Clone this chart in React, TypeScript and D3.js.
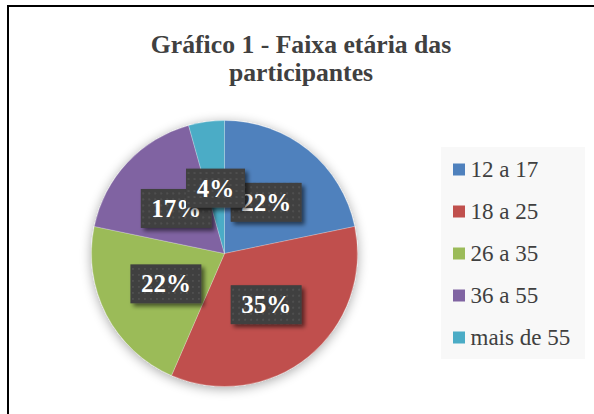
import React from "react";
import * as d3 from "d3";

const categories = ["12 a 17", "18 a 25", "26 a 35", "36 a 55", "mais de 55"];
const counts = [5, 8, 5, 4, 1];
const colors = ["#4f81bd", "#c0504d", "#9bbb59", "#8064a2", "#4bacc6"];
const titleLines = ["Gráfico 1 - Faixa etária das", "participantes"];

const W = 594;
const H = 414;
const cx = 224.5;
const cy = 253.5;
const R = 133;
const labelR = 66;

export default function App() {
  const total = d3.sum(counts);
  const pie = d3.pie<number>().sort(null).value((d) => d);
  const arcs = pie(counts);
  const arc = d3.arc<d3.PieArcDatum<number>>().innerRadius(0).outerRadius(R);
  const labelArc = d3.arc<d3.PieArcDatum<number>>().innerRadius(labelR).outerRadius(labelR);
  const fmt = d3.format(".0%");

  const legendY = d3.scalePoint<string>().domain(categories).range([169.5, 337.5]);

  const fontSerif = "Liberation Serif, Tinos, Times New Roman, Times, DejaVu Serif, serif";

  return (
    <svg width={W} height={H} style={{ position: "absolute", left: 0, top: 0 }}>
      <defs>
        <filter id="pieShadow" x="-30%" y="-30%" width="160%" height="160%">
          <feGaussianBlur in="SourceAlpha" stdDeviation="6" />
          <feOffset dx="0" dy="2" result="b" />
          <feComponentTransfer>
            <feFuncA type="linear" slope="0.35" />
          </feComponentTransfer>
          <feMerge>
            <feMergeNode />
            <feMergeNode in="SourceGraphic" />
          </feMerge>
        </filter>
        <filter id="boxShadow" x="-20%" y="-20%" width="150%" height="160%">
          <feGaussianBlur in="SourceAlpha" stdDeviation="2" />
          <feOffset dx="3" dy="3" />
          <feComponentTransfer>
            <feFuncA type="linear" slope="0.55" />
          </feComponentTransfer>
          <feMerge>
            <feMergeNode />
            <feMergeNode in="SourceGraphic" />
          </feMerge>
        </filter>
        <pattern id="dots" width="6" height="6" patternUnits="userSpaceOnUse">
          <rect width="6" height="6" fill="#3f3f3f" />
          <circle cx="3" cy="3" r="1" fill="#555555" />
        </pattern>
      </defs>
      <rect x={0} y={0} width={W} height={H} fill="#ffffff" />
      <line x1={7} y1={6} x2={W} y2={6} stroke="#000" strokeWidth={2} />
      <line x1={8} y1={5} x2={8} y2={H} stroke="#000" strokeWidth={2} />

      <g style={{ fontFamily: fontSerif }} fontWeight="bold" fontSize={25.7} fill="#404040" textAnchor="middle">
        {titleLines.map((t, i) => (
          <text key={i} x={301} y={53 + i * 28}>
            {t}
          </text>
        ))}
      </g>

      <g transform={`translate(${cx},${cy})`}>
        <g filter="url(#pieShadow)">
          {arcs.map((a, i) => (
            <path key={i} d={arc(a) || ""} fill={colors[i]} stroke="#ffffff" strokeOpacity={0.35} strokeWidth={0.7} />
          ))}
        </g>
        {arcs.map((a, i) => {
          const [lx, ly] = labelArc.centroid(a);
          const label = fmt(counts[i] / total);
          const tw = label.length === 2 ? 36 : 48;
          const bw = tw + 23;
          const bh = 39;
          return (
            <g key={i} transform={`translate(${lx},${ly})`}>
              <rect x={-bw / 2} y={-bh / 2} width={bw} height={bh} fill="url(#dots)" filter="url(#boxShadow)" />
              <text
                x={0}
                y={8.5}
                textAnchor="middle"
                style={{ fontFamily: fontSerif }}
                fontWeight="bold"
                fontSize={25}
                fill="#ffffff"
              >
                {label}
              </text>
            </g>
          );
        })}
      </g>

      <rect x={441} y={147} width={144} height={212} fill="#f8f8f8" />
      <g style={{ fontFamily: fontSerif }} fontSize={23} fill="#404040">
        {categories.map((c, i) => (
          <g key={c} transform={`translate(453,${legendY(c)})`}>
            <rect x={0} y={-6} width={12} height={12} fill={colors[i]} />
            <text x={17.5} y={7.5}>
              {c}
            </text>
          </g>
        ))}
      </g>
    </svg>
  );
}
